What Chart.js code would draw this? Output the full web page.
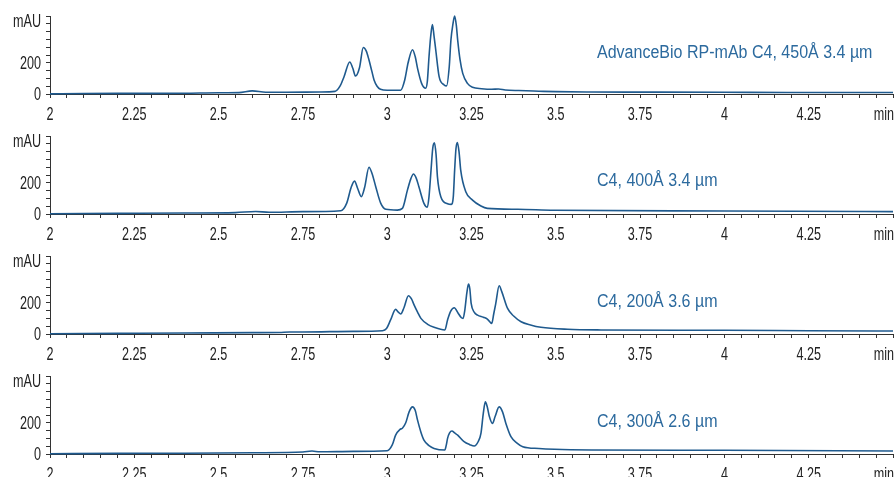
<!DOCTYPE html>
<html>
<head>
<meta charset="utf-8">
<script src="https://cdn.jsdelivr.net/npm/chart.js@4.4.1/dist/chart.umd.min.js"></script>
<style>
  html, body { margin: 0; padding: 0; background: #fff; }
  .panel { position: absolute; left: 0; width: 896px; height: 126px; }
</style>
</head>
<body>
<div class="panel" style="top:0px"><canvas id="c450" width="896" height="126"></canvas></div>
<div class="panel" style="top:120px"><canvas id="c400" width="896" height="126"></canvas></div>
<div class="panel" style="top:240px"><canvas id="c200" width="896" height="126"></canvas></div>
<div class="panel" style="top:360px"><canvas id="c300" width="896" height="126"></canvas></div>
<script>
// ── Chromatogram traces: retention time (min) / absorbance (mAU) ──
var t450 = [2.00, 2.10, 2.20, 2.30, 2.40, 2.50, 2.56, 2.60, 2.64, 2.70,
            2.80, 2.845, 2.86, 2.872, 2.889, 2.898, 2.906, 2.918, 2.929, 2.938,
            2.946, 2.954, 2.961, 2.970, 2.980, 3.000, 3.040, 3.052, 3.062, 3.075,
            3.083, 3.090, 3.102, 3.114, 3.119, 3.124, 3.129, 3.134, 3.139, 3.144,
            3.154, 3.169, 3.176, 3.184, 3.189, 3.195, 3.200, 3.205, 3.209, 3.216,
            3.224, 3.238, 3.253, 3.280, 3.310, 3.330, 3.350, 3.390, 3.450, 3.500,
            3.600, 3.800, 4.000, 4.200, 4.500];
var mau450 = [1, 3, 4, 4, 5, 8, 9, 20, 11, 11,
              13, 17, 50, 111, 205, 165, 115, 170, 298, 275,
              218, 150, 90, 50, 30, 24, 24, 90, 200, 284,
              240, 164, 68, 37, 80, 239, 370, 445, 370, 282,
              111, 58, 52, 175, 346, 450, 500, 440, 346, 220,
              132, 68, 43, 34, 30, 32, 26, 22, 18, 15,
              13, 12, 11, 10, 10];

var t400 = [2.00, 2.20, 2.40, 2.55, 2.61, 2.65, 2.75, 2.862, 2.880, 2.893,
            2.903, 2.913, 2.923, 2.933, 2.946, 2.955, 2.966, 2.981, 2.996, 3.030,
            3.045, 3.060, 3.070, 3.078, 3.086, 3.094, 3.109, 3.119, 3.124, 3.130,
            3.135, 3.140, 3.145, 3.149, 3.159, 3.179, 3.190, 3.196, 3.200, 3.204,
            3.208, 3.213, 3.218, 3.233, 3.253, 3.278, 3.297, 3.387, 3.495, 4.000,
            4.500];
var mau400 = [2, 4, 6, 9, 16, 11, 15, 21, 70, 170,
              211, 160, 111, 170, 300, 260, 175, 68, 30, 25,
              36, 153, 225, 256, 230, 175, 68, 43, 111, 281,
              420, 456, 380, 238, 111, 66, 62, 110, 281, 420,
              458, 400, 281, 143, 89, 51, 36, 30, 24, 19,
              15];

var t200 = [2.00, 2.20, 2.40, 2.60, 2.68, 2.71, 2.75, 2.90, 2.986, 2.998,
            3.010, 3.025, 3.033, 3.040, 3.050, 3.063, 3.072, 3.080, 3.090, 3.100,
            3.120, 3.139, 3.171, 3.179, 3.188, 3.199, 3.210, 3.220, 3.225, 3.230,
            3.236, 3.241, 3.245, 3.249, 3.258, 3.268, 3.285, 3.297, 3.310, 3.316,
            3.322, 3.332, 3.340, 3.357, 3.375, 3.397, 3.425, 3.456, 3.535, 3.634,
            4.000, 4.250, 4.500];
var mau200 = [2, 4, 6, 9, 10, 13, 13, 17, 21, 35,
              90, 158, 140, 128, 170, 245, 225, 185, 140, 100,
              62, 43, 26, 90, 145, 168, 135, 104, 100, 150,
              260, 320, 290, 196, 140, 121, 108, 96, 68, 130,
              196, 309, 270, 164, 115, 79, 58, 43, 30, 26,
              24, 21, 19];

var t300 = [2.00, 2.20, 2.40, 2.60, 2.75, 2.777, 2.80, 2.90, 3.000, 3.015,
            3.025, 3.038, 3.045, 3.055, 3.065, 3.075, 3.083, 3.090, 3.100, 3.109,
            3.125, 3.139, 3.171, 3.175, 3.179, 3.185, 3.192, 3.200, 3.209, 3.228,
            3.245, 3.258, 3.270, 3.278, 3.285, 3.291, 3.297, 3.303, 3.312, 3.320,
            3.332, 3.342, 3.352, 3.367, 3.385, 3.402, 3.450, 3.496, 3.605, 4.000,
            4.500];
var mau300 = [2, 4, 5, 8, 13, 19, 14, 17, 21, 58,
              121, 158, 165, 200, 270, 302, 280, 217, 140, 89,
              52, 36, 26, 55, 100, 135, 147, 135, 121, 79,
              60, 51, 80, 132, 260, 334, 300, 240, 196, 240,
              302, 270, 196, 111, 70, 47, 35, 30, 26, 24,
              19];

var columnNames = ['AdvanceBio RP-mAb C4, 450Å 3.4 µm', 'C4, 400Å 3.4 µm', 'C4, 200Å 3.6 µm', 'C4, 300Å 2.6 µm'];

// axis tick labels
var xTickValues = [2, 2.25, 2.5, 2.75, 3, 3.25, 3.5, 3.75, 4, 4.25, 4.5];
var xTickLabels = ['2', '2.25', '2.5', '2.75', '3', '3.25', '3.5', '3.75', '4', '4.25', 'min'];
var yTickValues = [0, 200, 500];
var yTickLabels = ['0', '200', 'mAU'];

var FONT = "'Liberation Sans', Arial, sans-serif";
var LINE = '#1f5a8e';
var AXIS = '#333333';
var TICK_SQUEEZE = 0.7;   // condensed look for the axis numbers
var NAME_SQUEEZE = 0.89;

// squeezed text helper: draws at (x, y) with a horizontal scale
function squeezedText(ctx, text, x, y, sx, align) {
  ctx.save();
  ctx.translate(x, y);
  ctx.scale(sx, 1);
  ctx.textAlign = align;
  ctx.fillText(text, 0, 0);
  ctx.restore();
}

// tick labels, column name and the "min" unit
var panelText = {
  id: 'panelText',
  afterDraw: function(chart, args, opts) {
    var ctx = chart.ctx;
    var xs = chart.scales.x, ys = chart.scales.y;
    ctx.save();
    ctx.textBaseline = 'alphabetic';
    ctx.fillStyle = '#222';
    ctx.font = '18px ' + FONT;
    xTickValues.forEach(function(v, i) {
      var last = i === xTickValues.length - 1;
      squeezedText(ctx, xTickLabels[i], xs.getPixelForValue(v) + (last ? 1 : 0), xs.top + 26,
                   TICK_SQUEEZE, last ? 'right' : 'center');
    });
    yTickValues.forEach(function(v, i) {
      var label = yTickLabels[i];
      var y = ys.getPixelForValue(v) + (label === 'mAU' ? 10.5 : 6.4);
      squeezedText(ctx, label, ys.right - 9, y, TICK_SQUEEZE, 'right');
    });

    ctx.fillStyle = '#2c6a9e';
    ctx.font = '18px ' + FONT;
    squeezedText(ctx, opts.text, 597, opts.textY, NAME_SQUEEZE, 'left');
    ctx.restore();
  }
};

function makePanel(id, times, values, name, textY) {
  var pts = times.map(function(t, i) { return { x: t, y: values[i] }; });
  return new Chart(document.getElementById(id), {
    type: 'line',
    data: {
      datasets: [{
        data: pts,
        borderColor: LINE,
        borderWidth: 1.6,
        pointRadius: 0,
        cubicInterpolationMode: 'monotone',
        fill: false,
        clip: false
      }]
    },
    options: {
      responsive: false,
      animation: false,
      devicePixelRatio: 1,
      layout: { padding: { top: 16, right: 3, bottom: 0, left: 0 } },
      plugins: {
        legend: { display: false },
        tooltip: { enabled: false },
        panelText: { text: name, textY: textY }
      },
      scales: {
        x: {
          type: 'linear',
          min: 2,
          max: 4.5,
          border: { display: true, color: AXIS, width: 1 },
          grid: { drawOnChartArea: false, drawTicks: true, tickLength: 4, color: AXIS },
          ticks: { display: false, stepSize: 0.05, autoSkip: false },
          afterFit: function(s) { s.height = 32; s.paddingLeft = 0; s.paddingRight = 0; }
        },
        y: {
          min: 0,
          max: 500,
          border: { display: true, color: AXIS, width: 1 },
          grid: { drawOnChartArea: false, drawTicks: true, tickLength: 4, color: AXIS },
          ticks: { display: false, stepSize: 50, autoSkip: false },
          afterFit: function(s) { s.width = 50; s.paddingTop = 0; s.paddingBottom = 0; }
        }
      }
    },
    plugins: [panelText]
  });
}

makePanel('c450', t450, mau450, columnNames[0], 58.3);
makePanel('c400', t400, mau400, columnNames[1], 66);
makePanel('c200', t200, mau200, columnNames[2], 66.7);
makePanel('c300', t300, mau300, columnNames[3], 66.7);
</script>
</body>
</html>
